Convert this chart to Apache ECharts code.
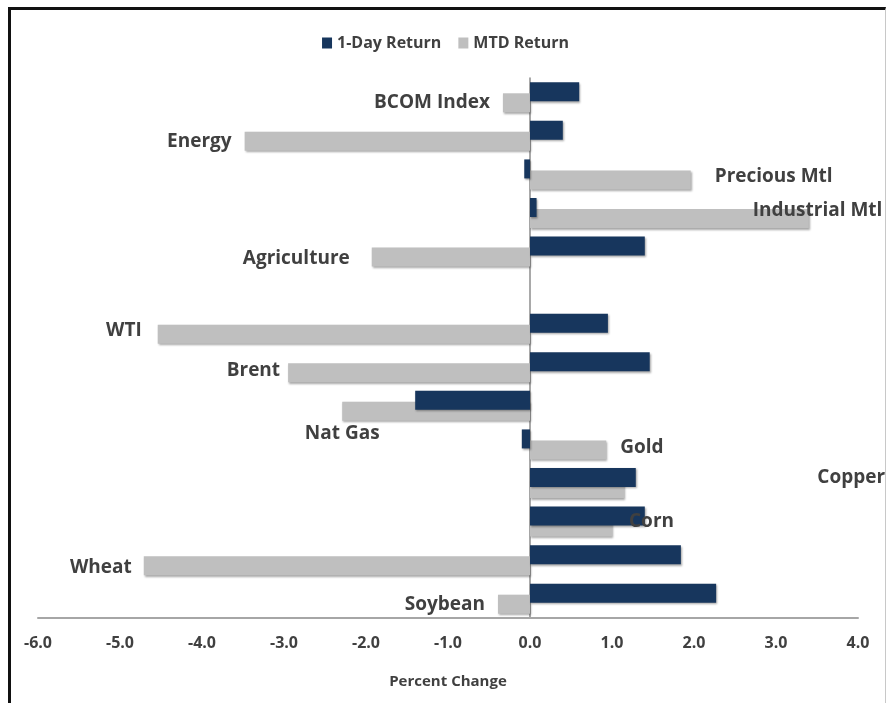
<!DOCTYPE html>
<html>
<head>
<meta charset="utf-8">
<script src="https://cdn.jsdelivr.net/npm/echarts@6/dist/echarts.min.js"></script>
<style>
  html, body { margin: 0; padding: 0; background: #fff; }
  #frame { position: absolute; left: 8px; top: 7px; width: 878px; height: 700px;
           border-left: 3px solid #111; border-top: 3px solid #111; border-right: 1px solid #c8c8c8; box-sizing: border-box; }
  #chart { position: absolute; left: 0; top: 0; width: 891px; height: 703px; }
</style>
</head>
<body>
<div id="frame"></div>
<div id="chart"></div>
<script>
// ---- data ----
const categories = ['BCOM Index', 'Energy', 'Precious Mtl', 'Industrial Mtl', 'Agriculture', '',
                    'WTI', 'Brent', 'Nat Gas', 'Gold', 'Copper', 'Corn', 'Wheat', 'Soybean'];
const oneDayReturn = [0.60, 0.40, -0.07, 0.08, 1.40, null, 0.95, 1.46, -1.40, -0.10, 1.29, 1.40, 1.84, 2.27];
const mtdReturn    = [-0.33, -3.48, 1.96, 3.40, -1.93, null, -4.54, -2.95, -2.29, 0.93, 1.15, 1.00, -4.71, -0.39];
const xTicks = [-6, -5, -4, -3, -2, -1, 0, 1, 2, 3, 4];
const seriesNames = ['1-Day Return', 'MTD Return'];

// ---- label placement (style only; offsets relative to the MTD bar end) ----
const labelPlacement = {
  'BCOM Index':     { position: 'left',  offset: [-13, -1] },
  'Energy':         { position: 'left',  offset: [-13, 0] },
  'Precious Mtl':   { position: 'right', offset: [24, -4] },
  'Industrial Mtl': { position: 'right', offset: [-56, -8] },
  'Agriculture':    { position: 'left',  offset: [-22, 1] },
  'WTI':            { position: 'left',  offset: [-16, -4] },
  'Brent':          { position: 'left',  offset: [-8, -3] },
  'Nat Gas':        { position: 'left',  offset: [0, 22], align: 'center' },
  'Gold':           { position: 'right', offset: [14, -3] },
  'Copper':         { position: 'right', offset: [193, -11] },
  'Corn':           { position: 'right', offset: [17, -6] },
  'Wheat':          { position: 'left',  offset: [-12, 1] },
  'Soybean':        { position: 'left',  offset: [-13, 0] }
};
const MTD_CENTER_SHIFT = 6; // MTD bar centre sits below the band centre

const FONT = '"Open Sans", "Liberation Sans", sans-serif';
const NAVY = '#17365d';
const GRAY = '#bfbfbf';
const TXT = '#404040';

const labelData = [];
mtdReturn.forEach((v, i) => {
  const name = categories[i];
  const p = labelPlacement[name];
  if (v === null || !p) return;
  labelData.push({
    value: [v, name],
    label: {
      show: true,
      position: p.position,
      distance: 0,
      offset: [p.offset[0], p.offset[1] + MTD_CENTER_SHIFT],
      align: p.align,
      formatter: name,
      color: TXT,
      opacity: 1,
      fontFamily: FONT,
      fontWeight: 'bold',
      fontSize: 19
    }
  });
});

const shadow = { shadowBlur: 2, shadowOffsetX: 1, shadowOffsetY: 1.5, shadowColor: 'rgba(0,0,0,0.35)' };

const chart = echarts.init(document.getElementById('chart'));
chart.setOption({
  animation: false,
  backgroundColor: 'transparent',
  legend: {
    top: 30,
    left: 'center',
    itemWidth: 10,
    itemHeight: 11,
    itemGap: 17,
    icon: 'rect',
    textStyle: { color: TXT, fontFamily: FONT, fontWeight: 'bold', fontSize: 16 },
    data: seriesNames
  },
  grid: { left: 38, right: 33, top: 78, bottom: 85, containLabel: false },
  xAxis: {
    type: 'value',
    min: xTicks[0],
    max: xTicks[xTicks.length - 1],
    interval: 1,
    name: 'Percent Change',
    nameLocation: 'middle',
    nameGap: 56,
    nameTextStyle: { color: TXT, fontFamily: FONT, fontWeight: 'bold', fontSize: 15 },
    axisLine: { show: true, onZero: false, lineStyle: { color: '#a6a6a6', width: 2 } },
    axisTick: { show: false },
    splitLine: { show: false },
    axisLabel: {
      color: TXT, fontFamily: FONT, fontWeight: 'bold', fontSize: 16, margin: 17,
      formatter: v => v.toFixed(1)
    }
  },
  yAxis: {
    type: 'category',
    inverse: true,
    data: categories,
    axisLine: { show: true, onZero: true, lineStyle: { color: '#8c8c8c', width: 1.5 } },
    axisTick: { show: false },
    axisLabel: { show: false },
    splitLine: { show: false }
  },
  series: [
    {
      name: seriesNames[0],
      type: 'bar',
      data: oneDayReturn,
      barWidth: 19,
      barGap: '-42%',
      z: 3,
      itemStyle: Object.assign({ color: NAVY }, shadow)
    },
    {
      name: seriesNames[1],
      type: 'bar',
      data: mtdReturn,
      barWidth: 19,
      barGap: '-42%',
      z: 2,
      itemStyle: Object.assign({ color: GRAY }, shadow)
    },
    {
      name: 'labels',
      type: 'scatter',
      data: labelData,
      symbol: 'circle',
      symbolSize: 0.01,
      silent: true,
      z: 10,
      itemStyle: { color: TXT, opacity: 1 }
    }
  ]
});
</script>
</body>
</html>
